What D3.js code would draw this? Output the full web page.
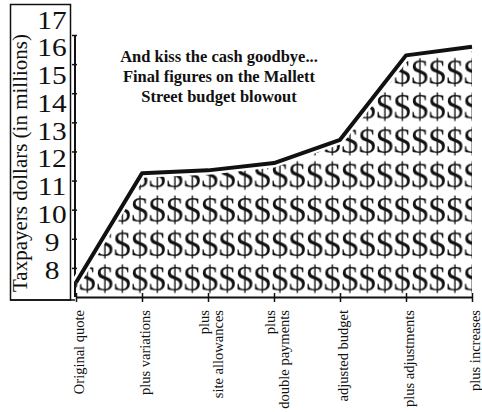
<!DOCTYPE html>
<html>
<head>
<meta charset="utf-8">
<script src="https://cdn.jsdelivr.net/npm/d3@7"></script>
<style>
  body { margin: 0; background: #fff; }
  svg { display: block; }
  text { font-family: "Liberation Serif", "Times New Roman", serif; fill: #111; }
</style>
</head>
<body>
<svg width="482" height="412"></svg>
<script>
const width = 482;
const height = 412;

// data
const categories = [
  "Original quote",
  "plus variations",
  "plus\nsite allowances",
  "plus\ndouble payments",
  "adjusted budget",
  "plus adjustments",
  "plus increases"
];
const values = [7.5, 11.25, 11.35, 11.6, 12.4, 15.3, 15.6];
const tickValues = [8, 9, 10, 11, 12, 13, 14, 15, 16];
const tickLabels = [8, 9, 10, 11, 12, 13, 14, 15, 16, 17];
const yTitle = "Taxpayers dollars (in millions)";
const title = ["And kiss the cash goodbye...", "Final figures on the Mallett", "Street budget blowout"];

const svg = d3.select("svg");

const x = d3.scalePoint().domain(categories).range([76, 472]);
const y = d3.scaleLinear().domain([7, 16]).range([297, 35]);
// the printed numbers sit a bit off the ticks in the original
const yLab = d3.scaleLinear().domain([8, 17]).range([270, 20]);

const pts = categories.map((c, i) => ({ c, v: values[i] }));

// one "$" per tile, tiled under the line
const cellW = 17.5, cellH = 34.4;
const pat = svg.append("defs").append("pattern")
  .attr("id", "dollars")
  .attr("patternUnits", "userSpaceOnUse")
  .attr("x", 61).attr("y", 290 - 29)
  .attr("width", cellW).attr("height", cellH);
pat.append("text")
  .attr("x", 0).attr("y", 29)
  .style("font-size", "35px")
  .text("$");

// box round the y labels
svg.append("rect")
  .attr("x", 10.5).attr("y", 4.5)
  .attr("width", 60).attr("height", 295.5)
  .attr("fill", "none").attr("stroke", "#111").attr("stroke-width", 1.5);

svg.append("text")
  .attr("transform", "translate(27,163) rotate(-90)")
  .attr("text-anchor", "middle")
  .style("font-size", "21px")
  .text(yTitle);

svg.append("g")
  .selectAll("text")
  .data(tickLabels)
  .join("text")
    .attr("transform", d => `translate(52,${yLab(d)}) scale(1.2,1)`)
    .attr("dy", "0.35em")
    .attr("text-anchor", "middle")
    .style("font-size", "24.5px")
    .text(d => d);

// $ fill
const area = d3.area()
  .x(d => x(d.c))
  .y0(y(7))
  .y1(d => y(d.v));

svg.append("path")
  .attr("d", area(pts))
  .attr("fill", "url(#dollars)");

// axes
const gy = svg.append("g")
  .attr("transform", "translate(72,0)")
  .call(d3.axisRight(y).tickValues(tickValues).tickSize(5).tickFormat(""));
gy.select(".domain").remove();
gy.selectAll(".tick line").attr("stroke", "#111").attr("stroke-width", 1.5);

svg.append("line")
  .attr("x1", 75).attr("x2", 75)
  .attr("y1", y(16)).attr("y2", y(7))
  .attr("stroke", "#111").attr("stroke-width", 2);

const gx = svg.append("g")
  .attr("transform", `translate(0,${y(7)})`)
  .call(d3.axisBottom(x).tickSizeInner(5).tickSizeOuter(0).tickFormat(""));
gx.select(".domain").attr("stroke", "#111").attr("stroke-width", 2);
gx.selectAll(".tick line").attr("y1", -4).attr("stroke", "#111").attr("stroke-width", 1.5);

svg.append("line")
  .attr("x1", 10).attr("x2", 75)
  .attr("y1", 300).attr("y2", 300)
  .attr("stroke", "#111").attr("stroke-width", 1.5);

// category labels, rotated
const lab = svg.append("g")
  .selectAll("text")
  .data(categories)
  .join("text")
    .attr("transform", d => `translate(${x(d) + 3},310) rotate(-90)`)
    .attr("text-anchor", "end")
    .style("font-size", "14.5px");

lab.each(function(d) {
  const lines = d.split("\n");
  const t = d3.select(this);
  lines.forEach((l, i) => {
    t.append("tspan")
      .attr("x", 0)
      .attr("y", (i - (lines.length - 1) / 2) * 14 + 5)
      .text(l);
  });
});

// the line
const line = d3.line().x(d => x(d.c)).y(d => y(d.v));

svg.append("path")
  .attr("d", line(pts))
  .attr("fill", "none")
  .attr("stroke", "#fff")
  .attr("stroke-width", 9)
  .attr("stroke-linejoin", "round");

svg.append("path")
  .attr("d", line(pts))
  .attr("fill", "none")
  .attr("stroke", "#111")
  .attr("stroke-width", 4)
  .attr("stroke-linejoin", "round");

// title
svg.append("g")
  .selectAll("text")
  .data(title)
  .join("text")
    .attr("x", 219)
    .attr("y", (d, i) => 62 + i * 20)
    .attr("text-anchor", "middle")
    .style("font-size", "16.5px")
    .style("font-weight", "bold")
    .text(d => d);
</script>
</body>
</html>
